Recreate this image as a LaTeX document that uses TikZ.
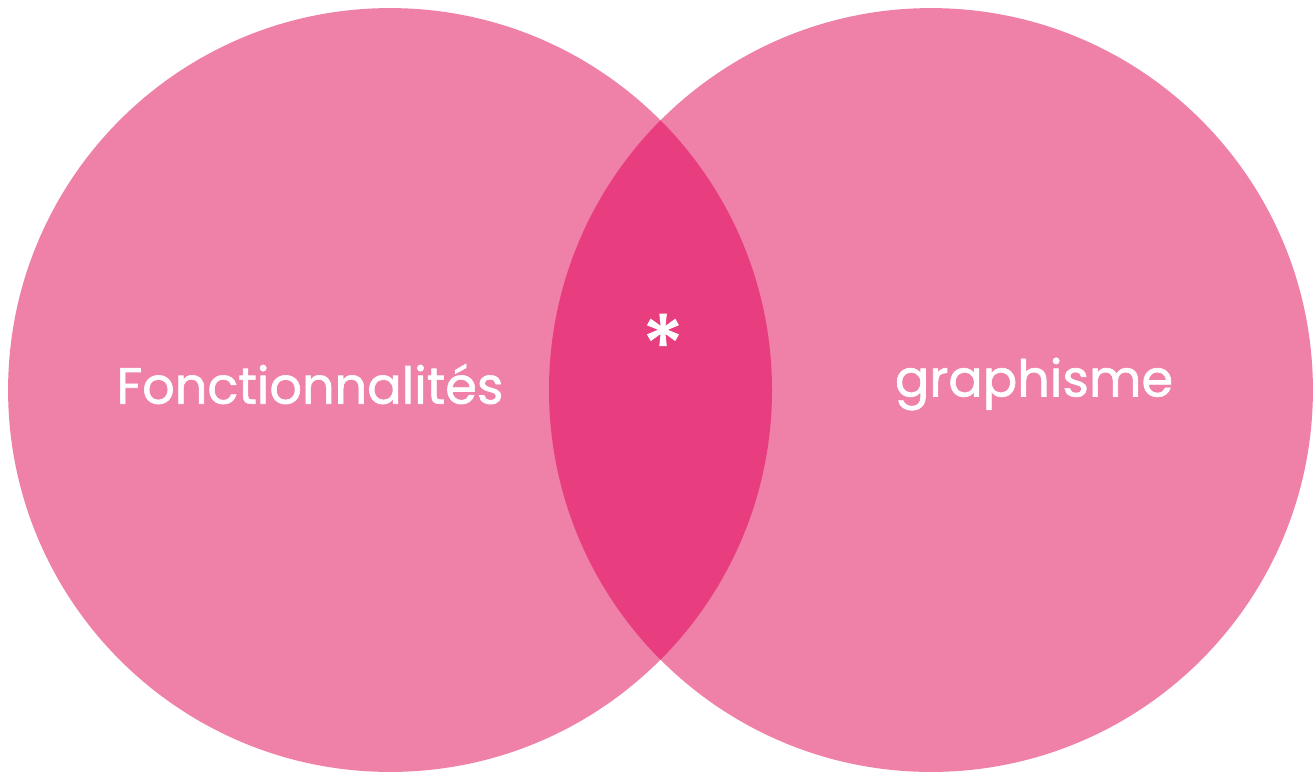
\documentclass[tikz,border=0pt]{standalone}
\usepackage{fontspec}
\setmainfont{Poppins}[FakeBold=1.2]
\definecolor{petal}{HTML}{EF80A8}
\definecolor{overlap}{HTML}{E83E80}
\begin{document}
\begin{tikzpicture}[
    x=0.02cm, y=-0.02cm,
    every node/.style={font=\fontsize{29}{32}\selectfont, text=white},
    disc/.style={circle, fill=petal, minimum size=15.28cm, inner sep=0pt}
]
\useasboundingbox (0,0) rectangle (1315,779);
\node[disc] (left) at (390,390) {};
\node[disc] (right) at (931,390) {};
% lens where the two sets meet
\begin{scope}
    \clip (390,390) circle [radius=382];
    \fill[overlap] (931,390) circle [radius=382];
\end{scope}
\node (fonc) at (310,384) {Fonctionnalités};
\node (graph) at (1034,384) {graphisme};
\node[font=\fontsize{48}{50}\selectfont] (star) at (663,345) {*};
\end{tikzpicture}
\end{document}
